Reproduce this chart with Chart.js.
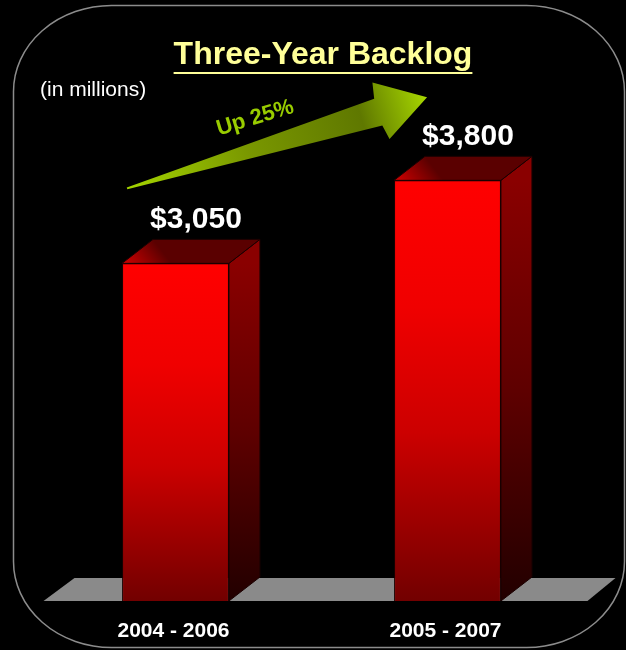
<!DOCTYPE html>
<html>
<head>
<meta charset="utf-8">
<title>Three-Year Backlog</title>
<script src="https://cdn.jsdelivr.net/npm/chart.js@4.4.1/dist/chart.umd.min.js"></script>
<style>
  html, body { margin: 0; padding: 0; background: #000; }
  canvas { display: block; }
</style>
</head>
<body>
<canvas id="backlog" width="626" height="650"></canvas>
<script>
// Backlog data
var periods = ['2004 - 2006', '2005 - 2007'];
var backlog = [3050, 3800];
var chartTitle = 'Three-Year Backlog';
var unitNote = '(in millions)';
var growthNote = 'Up 25%';

var FONT = '"Liberation Sans", Arial, Helvetica, sans-serif';
var DEPTH_X = 31, DEPTH_Y = -24;

function money(v) {
    return '$' + v.toLocaleString('en-US');
}

// front face: bright red at the top, dark red at the floor
function frontFill(context) {
    var chart = context.chart;
    if (!chart.chartArea || context.type !== 'data') return '#ff0000';
    var y = chart.scales.y;
    var top = y.getPixelForValue(backlog[context.dataIndex]);
    var bottom = y.getPixelForValue(0);
    var g = chart.ctx.createLinearGradient(0, top, 0, bottom);
    g.addColorStop(0, '#ff0000');
    g.addColorStop(0.3, '#f00000');
    g.addColorStop(0.6, '#cc0000');
    g.addColorStop(0.85, '#940000');
    g.addColorStop(1, '#720000');
    return g;
}

// rounded frame round the whole slide
const framePlugin = {
    id: 'frame',
    beforeDraw(chart) {
        const ctx = chart.ctx;
        ctx.save();
        ctx.fillStyle = '#000';
        ctx.fillRect(0, 0, chart.width, chart.height);
        ctx.beginPath();
        ctx.roundRect(13.5, 5.5, 611, 642, [{x: 98, y: 86}]);
        ctx.strokeStyle = '#8c8c8c';
        ctx.lineWidth = 1.5;
        ctx.stroke();
        ctx.restore();
    }
};

// grey floor slab under the bars
const floorPlugin = {
    id: 'floor',
    beforeDatasetsDraw(chart) {
        const ctx = chart.ctx;
        const area = chart.chartArea;
        const y0 = chart.scales.y.getPixelForValue(0);
        const x0 = area.left + 4, x1 = area.right + 4;
        ctx.save();
        ctx.beginPath();
        ctx.moveTo(x0, y0);
        ctx.lineTo(x1, y0);
        ctx.lineTo(x1 + 28, y0 - 23);
        ctx.lineTo(x0 + 31, y0 - 23);
        ctx.closePath();
        ctx.fillStyle = '#8a8a8a';
        ctx.fill();
        ctx.restore();
    }
};

// side and top faces of each box, plus the value above it
const boxPlugin = {
    id: 'box',
    afterDatasetsDraw(chart) {
        const ctx = chart.ctx;
        const meta = chart.getDatasetMeta(0);
        ctx.save();
        meta.data.forEach(function(bar, i) {
            const p = bar.getProps(['x', 'y', 'base', 'width'], true);
            const left = p.x - p.width / 2, right = p.x + p.width / 2;

            // right side
            let g = ctx.createLinearGradient(0, p.y, 0, p.base);
            g.addColorStop(0, '#8a0000');
            g.addColorStop(0.5, '#5e0000');
            g.addColorStop(1, '#220000');
            ctx.beginPath();
            ctx.moveTo(right, p.y);
            ctx.lineTo(right + DEPTH_X, p.y + DEPTH_Y);
            ctx.lineTo(right + DEPTH_X, p.base + DEPTH_Y);
            ctx.lineTo(right, p.base);
            ctx.closePath();
            ctx.fillStyle = g;
            ctx.fill();
            ctx.strokeStyle = '#1a0000';
            ctx.lineWidth = 1;
            ctx.stroke();

            // top
            g = ctx.createLinearGradient(left, p.y, left + DEPTH_X, p.y + DEPTH_Y);
            g.addColorStop(0, '#d40000');
            g.addColorStop(1, '#5a0000');
            ctx.beginPath();
            ctx.moveTo(left, p.y);
            ctx.lineTo(right, p.y);
            ctx.lineTo(right + DEPTH_X, p.y + DEPTH_Y);
            ctx.lineTo(left + DEPTH_X, p.y + DEPTH_Y);
            ctx.closePath();
            ctx.fillStyle = g;
            ctx.fill();
            ctx.stroke();

            // value label
            ctx.fillStyle = '#ffffff';
            ctx.font = 'bold 30px ' + FONT;
            ctx.textAlign = 'center';
            ctx.textBaseline = 'alphabetic';
            ctx.fillText(money(backlog[i]), p.x + DEPTH_X / 2 + 5, p.y + DEPTH_Y - 11);
        });
        ctx.restore();
    }
};

// title, notes, growth arrow and period labels
const textPlugin = {
    id: 'texts',
    afterDraw(chart) {
        const ctx = chart.ctx;
        const meta = chart.getDatasetMeta(0);
        const b1 = meta.data[0].getProps(['x', 'y', 'width'], true);
        const b2 = meta.data[1].getProps(['x', 'y', 'width'], true);
        ctx.save();

        // title with underline
        ctx.font = 'bold 32px ' + FONT;
        ctx.fillStyle = '#ffff99';
        ctx.textAlign = 'center';
        ctx.textBaseline = 'alphabetic';
        ctx.fillText(chartTitle, 323, 64);
        const tw = ctx.measureText(chartTitle).width;
        ctx.fillRect(323 - tw / 2, 72, tw, 2);

        ctx.font = '21px ' + FONT;
        ctx.fillStyle = '#ffffff';
        ctx.textAlign = 'left';
        ctx.fillText(unitNote, 40, 96);

        // arrow from the first box up to the second
        const tx = b1.x - b1.width / 2 + 5, ty = b1.y - 75;
        const hx = b2.x - b2.width / 2 + 33, hy = b2.y - 83;
        const len = Math.hypot(hx - tx, hy - ty);
        const ang = Math.atan2(hy - ty, hx - tx);
        ctx.save();
        ctx.translate(tx, ty);
        ctx.rotate(ang);
        const head = len - 48;
        const g = ctx.createLinearGradient(0, 0, len, 0);
        g.addColorStop(0, '#a4d400');
        g.addColorStop(0.4, '#7a9800');
        g.addColorStop(0.78, '#5f7800');
        g.addColorStop(1, '#a8d800');
        ctx.beginPath();
        ctx.moveTo(0, -1);
        ctx.lineTo(head - 3, -14);
        ctx.lineTo(head, -30);
        ctx.lineTo(len, 0);
        ctx.lineTo(head, 29);
        ctx.lineTo(head - 3, 14);
        ctx.lineTo(0, 1);
        ctx.closePath();
        ctx.fillStyle = g;
        ctx.fill();

        // growth note along the arrow
        ctx.font = 'bold 22px ' + FONT;
        ctx.fillStyle = '#99cc00';
        ctx.textAlign = 'center';
        ctx.fillText(growthNote, 143, -24);
        ctx.restore();

        // period labels under the floor
        ctx.font = 'bold 21px ' + FONT;
        ctx.fillStyle = '#ffffff';
        ctx.textAlign = 'center';
        const x = chart.scales.x;
        periods.forEach(function(label, i) {
            ctx.fillText(label, x.getPixelForValue(i) - 2, 637);
        });
        ctx.restore();
    }
};

function renderBacklogChart(ctx) {
    return new Chart(ctx, {
        type: 'bar',
        data: {
            labels: periods,
            datasets: [{
                data: backlog,
                backgroundColor: frontFill,
                borderColor: '#1a0000',
                borderWidth: 1,
                categoryPercentage: 1,
                barPercentage: 0.393
            }]
        },
        options: {
            responsive: false,
            animation: false,
            devicePixelRatio: 1,
            layout: {
                padding: {left: 39.5, right: 42.5, top: 47.5, bottom: 49}
            },
            plugins: {
                legend: {display: false},
                tooltip: {enabled: false},
                title: {display: false}
            },
            scales: {
                x: {display: false},
                y: {display: false, min: 0, max: 5000}
            }
        },
        plugins: [framePlugin, floorPlugin, boxPlugin, textPlugin]
    });
}

window.onload = function() {
    const ctxBacklog = document.getElementById('backlog').getContext('2d');
    renderBacklogChart(ctxBacklog);
};
</script>
</body>
</html>
